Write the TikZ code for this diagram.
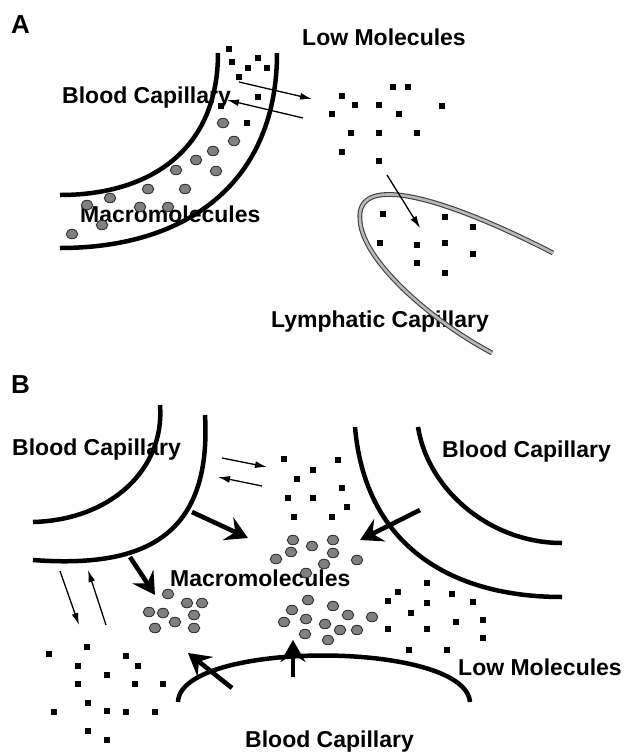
\documentclass[tikz,border=0pt]{standalone}
\usepackage{fontspec}
\setmainfont{Liberation Sans}
\usepackage{tikz}
\usetikzlibrary{arrows.meta,shapes.geometric}
\tikzset{
  wall/.style={draw=black, line width=4.5pt},
  lymphwall/.style={draw=black!75, double=gray!55, double distance=2.6pt, line width=1.1pt},
  thinarr/.style={-{Latex[length=12pt,width=7pt]}, line width=1.3pt},
  boldarr/.style={-{Stealth[length=22pt,width=25pt,inset=8pt]}, line width=4.6pt},
  lowmol/.style={rectangle, fill=black, inner sep=0pt, minimum size=5.5pt},
  macromol/.style={ellipse, draw=black!80, fill=black!50, line width=0.9pt, inner sep=0pt,
    minimum width=11.5pt, minimum height=9.5pt},
  lbl/.style={anchor=base west, inner sep=0pt, font=\fontsize{23}{27}\selectfont\bfseries},
  panel/.style={anchor=base west, inner sep=0pt, font=\fontsize{26}{30}\selectfont\bfseries}
}
\begin{document}
\begin{tikzpicture}[x=1pt, y=-1pt]
  \useasboundingbox (0,0) rectangle (624,753);

  % ---------- A ----------
  \node[panel] (pa) at (11,33) {A};
  \node[lbl] (alow) at (302,45) {Low Molecules};
  \node[lbl] (acap) at (62,103) {Blood Capillary};
  \node[lbl] (amac) at (80,222) {Macromolecules};
  \node[lbl] (alym) at (271,327) {Lymphatic Capillary};

  \draw[wall] (218,53) .. controls (218,150) and (150,195) .. (60,195);
  \draw[wall] (277,53) .. controls (277,180) and (190,248) .. (60,248);
  \draw[lymphwall] (553,253) .. controls (450,200) and (355,170) .. (360,220)
    .. controls (362,260) and (430,320) .. (492,353);

  \foreach \x/\y [count=\i] in {229/49,232/62,248/68,258/58,267/68,239/77,258/97,221/106,247/123,
      393/87,408/87,342/96,355/105,379/105,442/106,332/114,399/114,351/133,379/133,417/133,342/152,379/161,
      383/214,445/217,473/227,380/243,417/245,445/243,473/254,417/263,445/273}
    \node[lowmol] (la\i) at (\x,\y) {};
  \foreach \x/\y [count=\i] in {223/123,234/141,213/151,196/160,176/170,216/171,148/189,185/189,
      110/198,87/205,140/207,168/207,102/225,72/234}
    \node[macromol] (ma\i) at (\x,\y) {};

  \draw[thinarr] (239,82) -- (312,99);
  \draw[thinarr] (303,118) -- (227,100);
  \draw[thinarr] (387,175) -- (420,228);

  % ---------- B ----------
  \node[panel] (pb) at (11,393) {B};
  \node[lbl] (bcap1) at (12,455) {Blood Capillary};
  \node[lbl] (bcap2) at (442,457) {Blood Capillary};
  \node[lbl] (bmac) at (170,586) {Macromolecules};
  \node[lbl] (blow) at (458,675) {Low Molecules};
  \node[lbl] (bcap3) at (245,747) {Blood Capillary};

  \draw[wall] (160,405) .. controls (165,470) and (110,520) .. (33,522);
  \draw[wall] (205,415) .. controls (212,540) and (140,568) .. (33,560);
  \draw[wall] (355,427) .. controls (365,545) and (450,597) .. (562,597);
  \draw[wall] (418,427) .. controls (428,490) and (490,543) .. (562,543);
  \draw[wall] (178,702) .. controls (180,640) and (465,640) .. (470,702);

  \foreach \x/\y [count=\i] in {284/459,338/460,313/470,297/479,342/488,288/498,313/498,347/507,294/517,332/517,
      87/647,49/654,126/656,78/666,138/666,107/675,78/684,135/684,163/684,88/703,54/712,107/711,126/712,155/712,88/731,107/740,
      427/583,398/592,452/594,388/601,427/603,473/602,411/613,456/622,483/620,388/629,427/629,483/638,409/650,447/650}
    \node[lowmol] (lb\i) at (\x,\y) {};
  \foreach \x/\y [count=\i] in {293/540,312/546,333/540,291/552,333/553,276/559,357/560,324/564,306/573,
      168/594,187/603,202/603,149/612,163/613,194/615,175/622,155/628,194/628,
      308/600,292/610,333/606,284/622,306/619,348/615,372/617,325/624,340/630,357/630,305/634,328/640}
    \node[macromol] (mb\i) at (\x,\y) {};

  \draw[thinarr] (222,458) -- (267,467);
  \draw[thinarr] (262,486) -- (218,477);
  \draw[thinarr] (60,571) -- (79,625);
  \draw[thinarr] (106,625) -- (88,570);

  \draw[boldarr] (192,512) -- (248,538);
  \draw[boldarr] (130,557) -- (155,595);
  \draw[boldarr] (232,688) -- (188,653);
  \draw[boldarr] (293,677) -- (293,640);
  \draw[boldarr] (420,510) -- (360,540);
\end{tikzpicture}
\end{document}
